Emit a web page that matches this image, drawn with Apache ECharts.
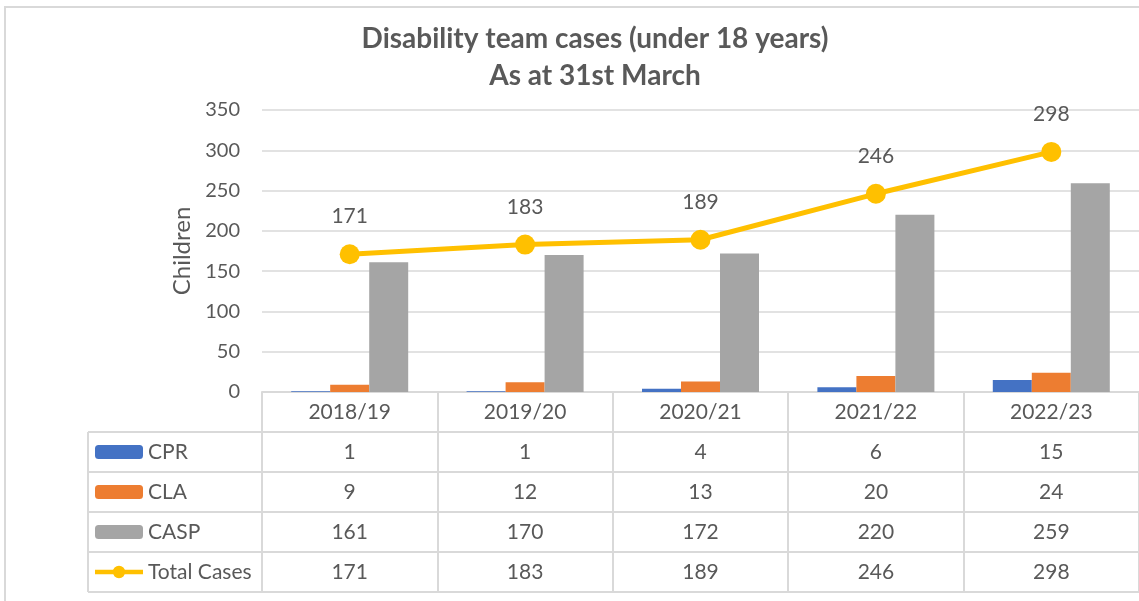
<!DOCTYPE html>
<html>
<head>
<meta charset="utf-8">
<script src="https://cdn.jsdelivr.net/npm/echarts@6/dist/echarts.min.js"></script>
<style>
  html, body { margin: 0; padding: 0; background: #fff; }
  #chart { width: 1139px; height: 601px; }
</style>
</head>
<body>
<div id="chart"></div>
<script>
// data
const years = ["2018/19", "2019/20", "2020/21", "2021/22", "2022/23"];
const cpr = [1, 1, 4, 6, 15];
const cla = [9, 12, 13, 20, 24];
const casp = [161, 170, 172, 220, 259];
const totalCases = [171, 183, 189, 246, 298];
const yTicks = { min: 0, max: 350, interval: 50 };

const rows = [
  { name: "CPR", values: cpr },
  { name: "CLA", values: cla },
  { name: "CASP", values: casp },
  { name: "Total Cases", values: totalCases },
];

// layout
const gridLeft = 262, gridTop = 110, gridWidth = 880, gridHeight = 282;
const rowH = 40;
const tableLeft = 88;
const font = "Lato";
const textColor = "#595959";
const lineColor = "#d9d9d9";

// thick line with a dot, like the excel legend key for a line series
const lineKey = "path://M0,4.5 H54 V9.5 H0 Z M20,7 A7,7 0 1,1 34,7 A7,7 0 1,1 20,7 Z";

const myChart = echarts.init(document.getElementById("chart"));

// x axes: first one is the category header, the rest are table rows
const xAxes = [];
for (let k = 0; k <= rows.length + 1; k++) {
  const isLast = k === rows.length + 1;
  xAxes.push({
    type: "category",
    data: years,
    position: "bottom",
    offset: k * rowH,
    gridIndex: 0,
    axisLine: { show: true, lineStyle: { color: lineColor, width: 2 } },
    axisTick: {
      show: !isLast,
      length: rowH,
      interval: 0,
      lineStyle: { color: lineColor, width: 2 },
    },
    axisLabel: {
      show: !isLast,
      interval: 0,
      margin: rowH / 2,
      verticalAlign: "middle",
      fontFamily: font,
      fontSize: 21,
      color: textColor,
      formatter:
        k === 0
          ? (v) => v
          : (v, i) => String(rows[k - 1].values[i]),
    },
    splitLine: { show: false },
  });
}

// left column borders of the table
const tableTop = gridTop + gridHeight + rowH;
const tableBottom = gridTop + gridHeight + rowH * (rows.length + 1);
const tableLines = [];
for (let k = 0; k <= rows.length; k++) {
  const y = tableTop + k * rowH;
  tableLines.push({
    type: "line",
    shape: { x1: tableLeft, y1: y, x2: gridLeft, y2: y },
    style: { stroke: lineColor, lineWidth: 2 },
  });
}
tableLines.push({
  type: "line",
  shape: { x1: tableLeft, y1: tableTop, x2: tableLeft, y2: tableBottom },
  style: { stroke: lineColor, lineWidth: 2 },
});

const option = {
  animation: false,
  color: ["#4472C4", "#ED7D31", "#A5A5A5", "#FFC000"],
  title: {
    text: "Disability team cases (under 18 years)\nAs at 31st March",
    left: 595,
    top: 20,
    padding: 0,
    textAlign: "center",
    textStyle: {
      fontFamily: font,
      fontSize: 28,
      fontWeight: "bold",
      color: textColor,
      lineHeight: 37,
    },
  },
  legend: {
    orient: "vertical",
    left: 95,
    top: tableTop + 9,
    padding: 0,
    itemWidth: 48,
    itemHeight: 14,
    itemGap: 18,
    textStyle: { fontFamily: font, fontSize: 21, color: textColor, lineHeight: 22 },
    data: [
      { name: "CPR" },
      { name: "CLA" },
      { name: "CASP" },
      { name: "Total Cases", icon: lineKey },
    ],
  },
  grid: {
    left: gridLeft,
    top: gridTop,
    width: gridWidth,
    height: gridHeight,
  },
  xAxis: xAxes,
  yAxis: {
    type: "value",
    min: yTicks.min,
    max: yTicks.max,
    interval: yTicks.interval,
    name: "Children",
    nameLocation: "middle",
    nameGap: 68,
    nameRotate: 90,
    nameTextStyle: { fontFamily: font, fontSize: 24, color: textColor },
    axisLine: { show: false },
    axisTick: { show: false },
    axisLabel: { fontFamily: font, fontSize: 20, color: textColor, margin: 22 },
    splitLine: { lineStyle: { color: lineColor, width: 1.5 } },
  },
  graphic: [
    {
      type: "rect",
      shape: { x: 5, y: 7, width: 1300, height: 800 },
      style: { fill: null, stroke: lineColor, lineWidth: 2 },
      silent: true,
    },
    ...tableLines,
  ],
  series: [
    { name: "CPR", type: "bar", data: cpr, barWidth: 39, barGap: "0%" },
    { name: "CLA", type: "bar", data: cla, barWidth: 39, barGap: "0%" },
    { name: "CASP", type: "bar", data: casp, barWidth: 39, barGap: "0%" },
    {
      name: "Total Cases",
      type: "line",
      data: totalCases,
      z: 5,
      symbol: "circle",
      symbolSize: 20,
      lineStyle: { width: 5 },
      label: {
        show: true,
        position: "top",
        distance: 17,
        fontFamily: font,
        fontSize: 21,
        color: textColor,
      },
    },
  ],
};

myChart.setOption(option);
</script>
</body>
</html>
